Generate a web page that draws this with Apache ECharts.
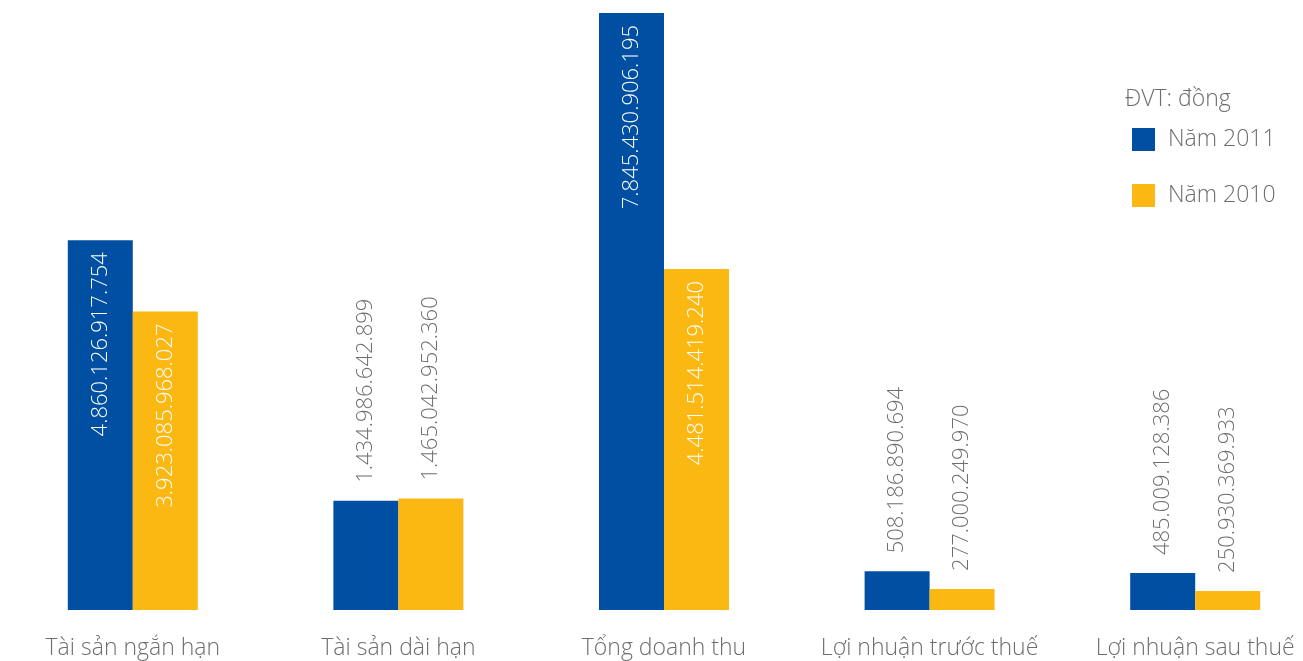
<!DOCTYPE html>
<html><head><meta charset="utf-8">
<script src="https://cdn.jsdelivr.net/npm/echarts@6/dist/echarts.min.js"></script>
<style>html,body{margin:0;padding:0;background:#fff}#c{width:1303px;height:661px}</style>
</head><body><div id="c"></div>
<script>
const categories = ['Tài sản ngắn hạn', 'Tài sản dài hạn', 'Tổng doanh thu', 'Lợi nhuận trước thuế', 'Lợi nhuận sau thuế'];
const values2011 = [4860126917754, 1434986642899, 7845430906195, 508186890694, 485009128386];
const values2010 = [3923085968027, 1465042952360, 4481514419240, 277000249970, 250930369933];
const seriesNames = ['Năm 2011', 'Năm 2010'];
const unitLabel = 'ĐVT: đồng';

const FONT = 'Open Sans';
const GRAY = '#6d6e71';
const fmt = v => String(v).replace(/\B(?=(\d{3})+(?!\d))/g, '.');
const insideCut = 2e12;

function items(arr) {
  return arr.map(v => ({
    value: v,
    label: v > insideCut ? {
      position: 'insideTop', rotate: 90, align: 'right', verticalAlign: 'middle',
      color: '#ffffff', distance: 12
    } : {
      position: 'top', rotate: 90, align: 'left', verticalAlign: 'middle',
      color: GRAY, distance: 18
    }
  }));
}

const labelBase = {
  show: true, fontFamily: FONT, fontWeight: 300, fontSize: 22,
  formatter: p => fmt(p.value)
};

const chart = echarts.init(document.getElementById('c'), null, {renderer: 'canvas'});
chart.setOption({
  animation: false,
  grid: {left: 0, width: 1328, top: 13, bottom: 51, containLabel: false, outerBoundsMode: 'none'},
  xAxis: {
    type: 'category', data: categories,
    axisLine: {show: false}, axisTick: {show: false},
    axisLabel: {fontFamily: FONT, fontWeight: 300, fontSize: 23, color: GRAY, margin: 27, interval: 0}
  },
  yAxis: {
    type: 'value', min: 0, max: Math.max(...values2011, ...values2010),
    show: false, splitLine: {show: false}
  },
  legend: {
    orient: 'vertical', left: 1127, top: 123, itemWidth: 23, itemHeight: 23, itemGap: 33,
    icon: 'rect', textStyle: {fontFamily: FONT, fontWeight: 300, fontSize: 23, color: GRAY, padding: [0, 0, 0, 8]},
    data: seriesNames
  },
  graphic: [{
    type: 'text', left: 1125, top: 88,
    style: {text: unitLabel, font: '300 23px "Open Sans"', fill: GRAY}
  }],
  series: [
    {name: seriesNames[0], type: 'bar', barWidth: 65, barGap: '0%', itemStyle: {color: '#004fa2'},
     label: labelBase, data: items(values2011)},
    {name: seriesNames[1], type: 'bar', barWidth: 65, barGap: '0%', itemStyle: {color: '#fbb813'},
     label: labelBase, data: items(values2010)}
  ]
});
</script></body></html>
